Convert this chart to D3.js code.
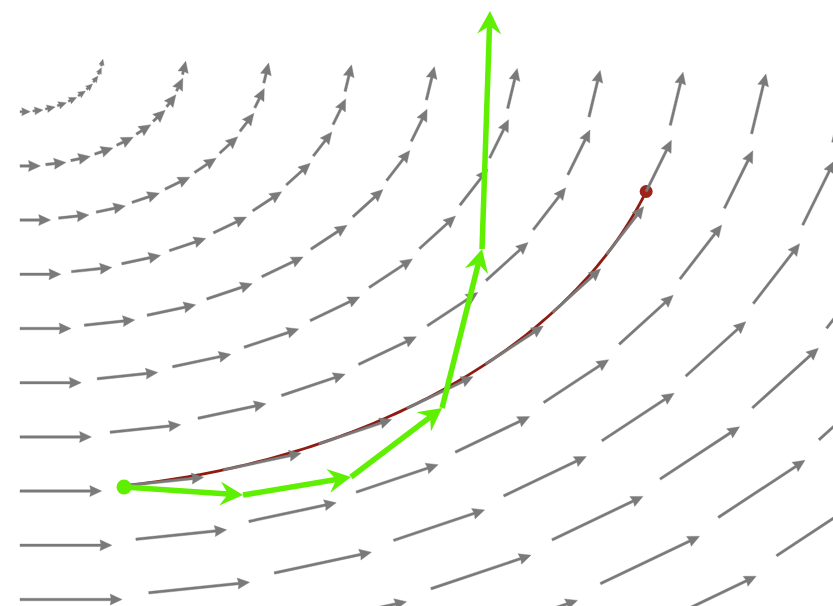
<!DOCTYPE html>
<html>
<head>
<meta charset="utf-8">
<script src="https://cdn.jsdelivr.net/npm/d3@7"></script>
<style>
  html, body { margin: 0; padding: 0; background: #fff; }
  svg { display: block; }
</style>
</head>
<body>
<svg id="chart"></svg>
<script>
// streamlines of the field (radius of each circle) and sample index along them
const radii = [1, 2, 3, 4, 5, 6, 7, 8, 9, 10, 11, 12, 13];
const phaseIndex = [0, 1, 2, 3, 4, 5, 6, 7, 8, 9];
const phaseStep = Math.PI / 20;
const arrowDt = 0.124;

// Euler steps (green)
const eulerX = [1.264, 2.710, 4.022, 5.128, 5.614, 5.711];
const eulerY = [-7.924, -8.072, -7.740, -6.467, -3.533, 0.858];

// exact solution (red): circle of radius 8 between two sample phases
const exactRadius = 8;
const exactPhase = [1, 8];

class FieldChart {

    constructor(_config) {
        this.config = {
            parentElement: _config.parentElement,
            containerWidth: _config.containerWidth || 833,
            containerHeight: _config.containerHeight || 606
        }
        this.initVis();
    }

    initVis() {
        let vis = this;

        // data units -> pixels (origin of the rotation sits at the top-left)
        vis.xScale = d3.scaleLinear().domain([0, 10]).range([20, 843]);
        vis.yScale = d3.scaleLinear().domain([0, -10]).range([57.5, 599.5]);

        vis.svg = d3.select(vis.config.parentElement)
            .attr('width', vis.config.containerWidth)
            .attr('height', vis.config.containerHeight);

        vis.svg.append('rect')
            .attr('width', vis.config.containerWidth)
            .attr('height', vis.config.containerHeight)
            .attr('fill', '#fff');

        vis.exactG = vis.svg.append('g');
        vis.fieldG = vis.svg.append('g');
        vis.eulerG = vis.svg.append('g');

        vis.updateVis();
    }

    updateVis() {
        let vis = this;

        // one arrow per (radius, phase): start on the circle, vector = dt * (-y, x)
        vis.arrows = [];
        radii.forEach(r => {
            phaseIndex.forEach(k => {
                const th = k * phaseStep;
                const x = r * Math.sin(th), y = -r * Math.cos(th);
                const x2 = x + arrowDt * (-y), y2 = y + arrowDt * x;
                vis.arrows.push({
                    x1: vis.xScale(x), y1: vis.yScale(y),
                    x2: vis.xScale(x2), y2: vis.yScale(y2)
                });
            });
        });

        vis.exactPts = d3.range(exactPhase[0] * phaseStep, exactPhase[1] * phaseStep + 1e-9, 0.01)
            .map(th => [exactRadius * Math.sin(th), -exactRadius * Math.cos(th)]);
        const thEnd = exactPhase[1] * phaseStep;
        vis.exactPts.push([exactRadius * Math.sin(thEnd), -exactRadius * Math.cos(thEnd)]);

        vis.eulerPts = eulerX.map((d, i) => [vis.xScale(d), vis.yScale(eulerY[i])]);

        vis.renderVis();
    }

    // quiver-like arrow polygon, head shrinks when the arrow is short
    arrowPath(d, shaft, headLen, headHalf) {
        const dx = d.x2 - d.x1, dy = d.y2 - d.y1;
        const len = Math.hypot(dx, dy);
        const s = Math.min(1, len / (headLen * 1.3));
        const w = shaft * Math.max(s, 0.85) / 2, hl = headLen * s, hw = Math.max(headHalf * s, w + 0.8);
        const ux = dx / len, uy = dy / len, nx = -uy, ny = ux;
        const p = (a, b) => [d.x1 + ux * a + nx * b, d.y1 + uy * a + ny * b];
        const pts = [p(0, -w), p(len - hl, -w), p(len - hl * 1.08, -hw), p(len, 0),
                     p(len - hl * 1.08, hw), p(len - hl, w), p(0, w)];
        return 'M' + pts.map(q => q.join(',')).join('L') + 'Z';
    }

    renderVis() {
        let vis = this;

        // exact solution
        const line = d3.line()
            .x(d => vis.xScale(d[0]))
            .y(d => vis.yScale(d[1]));

        vis.exactG.append('path')
            .datum(vis.exactPts)
            .attr('d', line)
            .attr('fill', 'none')
            .attr('stroke', '#8e1c12')
            .attr('stroke-width', 2.8);

        const last = vis.exactPts[vis.exactPts.length - 1];
        vis.exactG.append('circle')
            .attr('cx', vis.xScale(last[0]))
            .attr('cy', vis.yScale(last[1]))
            .attr('r', 6.5)
            .attr('fill', '#9c2418');

        // vector field
        vis.fieldG.selectAll('path')
            .data(vis.arrows)
            .join('path')
            .attr('d', d => vis.arrowPath(d, 2.5, 11, 5.5))
            .attr('fill', '#7a7a7a')
            .attr('stroke', '#7a7a7a')
            .attr('stroke-width', 0.4)
            .attr('stroke-linejoin', 'round');

        // Euler steps
        const segs = d3.pairs(vis.eulerPts);
        segs.forEach(([a, b]) => {
            const dx = b[0] - a[0], dy = b[1] - a[1];
            const len = Math.hypot(dx, dy);
            const ux = dx / len, uy = dy / len, nx = -uy, ny = ux;
            const hl = 23, hw = 12, notch = 8;
            vis.eulerG.append('line')
                .attr('x1', a[0]).attr('y1', a[1])
                .attr('x2', b[0] - ux * (hl - notch)).attr('y2', b[1] - uy * (hl - notch))
                .attr('stroke', '#5ef000')
                .attr('stroke-width', 5.5);
            const p = (u, v) => [b[0] - ux * u + nx * v, b[1] - uy * u + ny * v];
            vis.eulerG.append('path')
                .attr('d', 'M' + [p(0, 0), p(hl, hw), p(hl - notch, 0), p(hl, -hw)]
                    .map(q => q.join(',')).join('L') + 'Z')
                .attr('fill', '#5ef000');
        });

        vis.eulerG.append('circle')
            .attr('cx', vis.eulerPts[0][0])
            .attr('cy', vis.eulerPts[0][1])
            .attr('r', 7.5)
            .attr('fill', '#5ef000');
    }
}

new FieldChart({ parentElement: '#chart' });
</script>
</body>
</html>
